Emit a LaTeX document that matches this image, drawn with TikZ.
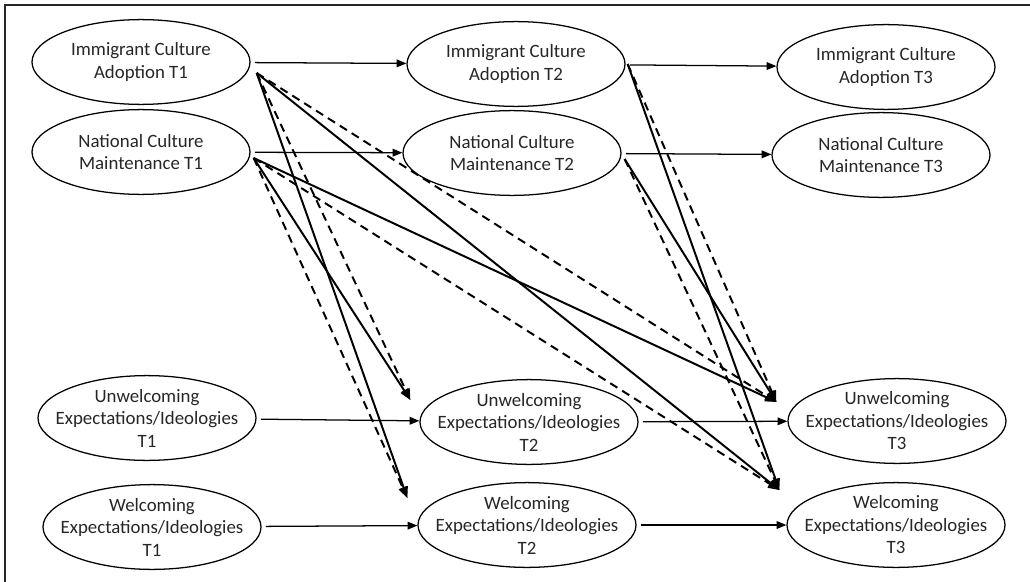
\documentclass[tikz,border=0pt]{standalone}
\usepackage{fontspec}
\setmainfont{Carlito}
\usepackage{tikz}
\usetikzlibrary{shapes.geometric, arrows.meta, calc}
\tikzset{
  var_ellipse/.style={ellipse, draw, line width=0.9pt, minimum width=5.45cm, minimum height=2.12cm, inner sep=0pt}, % the ellipse only
  var_text/.style={align=center, text=black!85, font=\fontsize{13.4}{16}\selectfont},
  stab/.style={-{Triangle[length=7pt,width=5.5pt]}, line width=0.9pt, shorten <=3pt},
  cross_solid/.style={-{Triangle[length=8pt,width=6pt]}, line width=1.4pt},
  cross_dashed/.style={cross_solid, dash pattern=on 6pt off 4pt}
}
\begin{document}
\begin{tikzpicture}
  \useasboundingbox (0,0) rectangle (25.75,-14.55);
  \draw[line width=0.9pt, black!85] (0.125,-14.7) -- (0.125,-0.125) -- (25.9,-0.125);

  % Nodes
  \node [var_ellipse, label={[var_text]center:{Immigrant Culture\\Adoption T1}}] (ica1) at (3.525,-1.55) {};
  \node [var_ellipse, label={[var_text]center:{National Culture\\Maintenance T1}}] (ncm1) at (3.525,-3.8) {};
  \node [var_ellipse, label={[var_text]center:{Immigrant Culture\\Adoption T2}}] (ica2) at (12.9,-1.6) {};
  \node [var_ellipse, label={[var_text]center:{National Culture\\Maintenance T2}}] (ncm2) at (12.8,-3.825) {};
  \node [var_ellipse, label={[var_text]center:{Immigrant Culture\\Adoption T3}}] (ica3) at (22.15,-1.675) {};
  \node [var_ellipse, label={[var_text]center:{National Culture\\Maintenance T3}}] (ncm3) at (22.025,-3.875) {};

  \node [var_ellipse, label={[var_text]center:{Unwelcoming\\Expectations/Ideologies\\T1}}] (uei1) at (3.675,-10.45) {};
  \node [var_ellipse, label={[var_text]center:{Welcoming\\Expectations/Ideologies\\T1}}] (wei1) at (3.8,-13.175) {};
  \node [var_ellipse, label={[var_text]center:{Unwelcoming\\Expectations/Ideologies\\T2}}] (uei2) at (13.225,-10.55) {};
  \node [var_ellipse, label={[var_text]center:{Welcoming\\Expectations/Ideologies\\T2}}] (wei2) at (13.175,-13.125) {};
  \node [var_ellipse, label={[var_text]center:{Unwelcoming\\Expectations/Ideologies\\T3}}] (uei3) at (22.425,-10.525) {};
  \node [var_ellipse, label={[var_text]center:{Welcoming\\Expectations/Ideologies\\T3}}] (wei3) at (22.4,-13.125) {};

  % start and end points of the cross paths
  \coordinate (ica1_out) at ($(ica1.east)+(0.15,-0.275)$);
  \coordinate (ncm1_out) at ($(ncm1.east)+(0.075,-0.15)$);
  \coordinate (ica2_out) at ($(ica2.east)+(0.05,0)$);
  \coordinate (ncm2_out) at ($(ncm2.east)+(0.075,-0.15)$);
  \coordinate (uei2_in) at ($(uei2.west)+(-0.225,0.55)$);
  \coordinate (wei2_in) at ($(wei2.west)+(-0.25,0.675)$);
  \coordinate (uei3_in) at ($(uei3.west)+(-0.275,0.475)$);
  \coordinate (wei3_in) at ($(wei3.west)+(-0.175,0.875)$);

  % Arrows
  \draw[stab] (ica1) -- (ica2);
  \draw[stab] (ica2) -- (ica3);
  \draw[stab] (ncm1) -- (ncm2);
  \draw[stab] (ncm2) -- (ncm3);
  \draw[stab] (uei1) -- (uei2);
  \draw[stab] (uei2) -- (uei3);
  \draw[stab] (wei1) -- (wei2);
  \draw[stab] (wei2) -- (wei3);

  \draw[cross_solid] (ica1_out) -- (wei2_in);
  \draw[cross_dashed] (ica1_out) -- (uei2_in);
  \draw[cross_solid] (ica1_out) -- (wei3_in);
  \draw[cross_dashed] (ica1_out) -- (uei3_in);
  \draw[cross_solid] (ncm1_out) -- (uei2_in);
  \draw[cross_dashed] (ncm1_out) -- (wei2_in);
  \draw[cross_solid] (ncm1_out) -- (uei3_in);
  \draw[cross_dashed] (ncm1_out) -- (wei3_in);
  \draw[cross_solid] (ica2_out) -- (wei3_in);
  \draw[cross_dashed] (ica2_out) -- (uei3_in);
  \draw[cross_solid] (ncm2_out) -- (uei3_in);
  \draw[cross_dashed] (ncm2_out) -- (wei3_in);

\end{tikzpicture}
\end{document}
